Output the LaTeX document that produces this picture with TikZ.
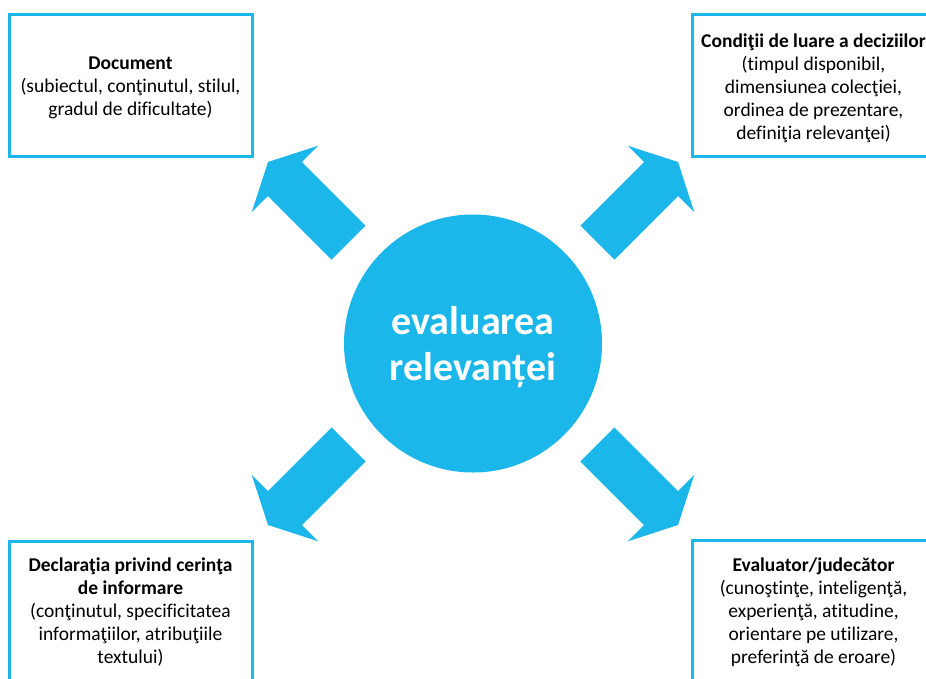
\documentclass[tikz,border=0pt]{standalone}
\usepackage{fontspec}
\setmainfont{Carlito}[Ligatures={NoCommon}]
\definecolor{cyanblue}{RGB}{27,183,234}
\begin{document}
\begin{tikzpicture}[x=1pt,y=-1pt,
  infobox/.style={draw=cyanblue, line width=3pt, fill=white, minimum width=243pt, minimum height=142pt,
    inner sep=0pt},
  infotext/.style={align=center, font=\fontsize{19.5}{23}\selectfont},
  hub/.style={circle, fill=cyanblue, minimum size=258pt, inner sep=0pt},
  hubtext/.style={text=white, align=center, font=\fontsize{40}{46}\selectfont\bfseries},
  blockarrow/.style={fill=cyanblue, draw=none}]
\clip (0,0) rectangle (926,678);
\fill[white] (0,0) rectangle (926,678);

\node[hub] (center) at (473,343.5) {};
\node[hubtext] (centertext) at (473,347) {evaluarea\\relevanței};

\node[infobox] (doc) at (130.5,85) {};
\node[infotext] (doctext) at (130.5,88) {\textbf{Document}\\(subiectul, conţinutul, stilul,\\gradul de dificultate)};
\node[infobox] (cond) at (813.5,85) {};
\node[infotext] (condtext) at (813.5,88) {\textbf{Condiţii de luare a deciziilor}\\(timpul disponibil,\\dimensiunea colecţiei,\\ordinea de prezentare,\\definiţia relevanţei)};
\node[infobox] (decl) at (130.5,612) {};
\node[infotext] (decltext) at (130.5,612) {\textbf{Declaraţia privind cerinţa}\\\textbf{de informare}\\(conţinutul, specificitatea\\informaţiilor, atribuţiile\\textului)};
\node[infobox] (eval) at (813.5,611) {};
\node[infotext] (evaltext) at (813.5,612) {\textbf{Evaluator/judecător}\\(cunoştinţe, inteligenţă,\\experienţă, atitudine,\\orientare pe utilizare,\\preferinţă de eroare)};

% block arrows
\fill[blockarrow] (268,162) -- (318.2,145.7) -- (302,162) -- (365.6,225.6) -- (331.6,259.6) -- (268,196) -- (251.7,212.2) -- cycle;
\fill[blockarrow] (678,162) -- (627.8,145.7) -- (644,162) -- (580.4,225.6) -- (614.4,259.6) -- (678,196) -- (694.3,212.2) -- cycle;
\fill[blockarrow] (268,525) -- (318.2,541.3) -- (302,525) -- (365.6,461.4) -- (331.6,427.4) -- (268,491) -- (251.7,474.8) -- cycle;
\fill[blockarrow] (678,525) -- (627.8,541.3) -- (644,525) -- (580.4,461.4) -- (614.4,427.4) -- (678,491) -- (694.3,474.8) -- cycle;
\end{tikzpicture}
\end{document}
